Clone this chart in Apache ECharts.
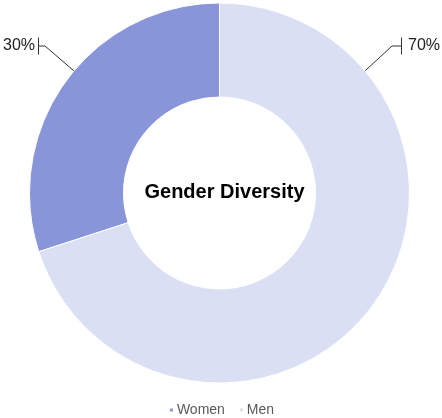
<!DOCTYPE html>
<html>
<head>
<meta charset="utf-8">
<style>html,body{margin:0;padding:0;background:#fff}#c{width:442px;height:418px}</style>
<script src="https://cdn.jsdelivr.net/npm/echarts@6/dist/echarts.min.js"></script>
</head>
<body>
<div id="c"></div>
<script>
const categories = ['Women', 'Men'];
const values = [30, 70];
const colors = ['#8896d9', '#dadff3'];
const centerTitle = 'Gender Diversity';

const chart = echarts.init(document.getElementById('c'), null, {renderer: 'canvas'});
const cx = 219.5, cy = 193, R = 190, r = 96;

function layout(params) {
  const i = params.dataIndex;
  const left = i === 0;
  const ang = (left ? 140 : 40) * Math.PI / 180;
  const sx = cx + R * Math.cos(ang), sy = cy - R * Math.sin(ang);
  const ex = left ? 45 : 392, ey = 46;
  const bx = left ? 39 : 401;
  return {
    x: bx, y: ey,
    align: left ? 'right' : 'left',
    verticalAlign: 'middle',
    labelLinePoints: [[sx, sy], [ex, ey], [bx, ey]]
  };
}

chart.setOption({
  animation: false,
  title: {
    text: centerTitle,
    left: cx, top: cy - 6,
    textAlign: 'center', textVerticalAlign: 'middle',
    textStyle: {fontFamily: 'Liberation Sans', fontWeight: 'bold', fontSize: 20, color: '#000'}
  },
  legend: {
    data: categories,
    bottom: -4,
    left: 'center',
    icon: 'rect',
    itemWidth: 5, itemHeight: 5, itemGap: 13,
    textStyle: {fontFamily: 'Liberation Sans', fontSize: 14, color: '#595959', padding: [0, 0, 0, -2]}
  },
  series: [{
    type: 'pie',
    center: [cx, cy],
    radius: [r, R],
    clockwise: false,
    startAngle: 90,
    avoidLabelOverlap: false,
    itemStyle: {borderColor: '#fff', borderWidth: 1},
    label: {
      show: true,
      formatter: function (p) {
        return p.dataIndex === 0 ? '{v|' + p.value + '%}{bar|}' : '{bar|}{v|' + p.value + '%}';
      },
      rich: {
        v: {fontFamily: 'Liberation Sans', fontSize: 16, color: '#222', padding: [0, 3, 0, 6]},
        bar: {width: 1, height: 17, backgroundColor: '#333'}
      }
    },
    labelLine: {show: true, lineStyle: {color: '#333', width: 1}},
    labelLayout: layout,
    emphasis: {disabled: true},
    data: categories.map((c, i) => ({name: c, value: values[i], itemStyle: {color: colors[i]}}))
  }]
});
</script>
</body>
</html>
